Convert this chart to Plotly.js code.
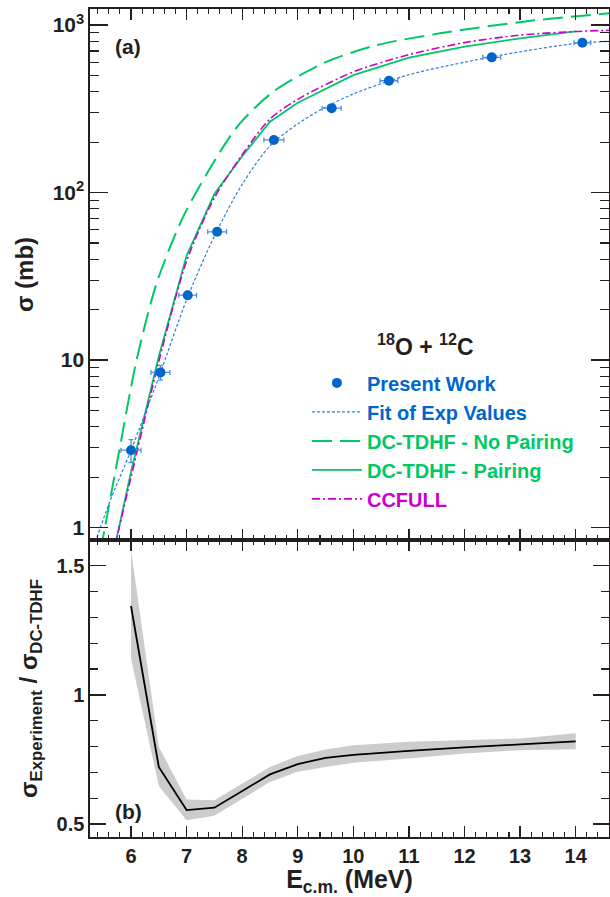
<!DOCTYPE html>
<html>
<head>
<meta charset="utf-8">
<script src="https://cdn.plot.ly/plotly-3.0.1.min.js"></script>
<style>html,body{margin:0;padding:0;background:#fff;}#chart{width:610px;height:897px;}</style>
</head>
<body>
<div id="chart"></div>
<script>
// ---- Data ----
const expE = [6.00, 6.53, 7.02, 7.55, 8.57, 9.61, 10.64, 12.49, 14.12];
const expSigma = [2.9, 8.45, 24.4, 58.3, 206, 319, 465, 641, 783];
const expSigmaErr = [0.45, 0.85, 1.3, 2.5, 6, 9, 13, 18, 22];
const expEErr = [0.18, 0.17, 0.16, 0.17, 0.18, 0.17, 0.16, 0.16, 0.15];

const fitE = [5.3, 5.6, 6.0, 6.5, 7.0, 7.5, 8.0, 8.5, 9.0, 9.5, 10, 11, 12, 13, 14, 14.6];
const fitSigma = [0.72, 1.38, 2.9, 7.9, 22.9, 55, 112, 190, 257, 324, 388, 505, 600, 692, 776, 800];

const noPairE = [5.45, 5.53, 5.79, 6.10, 6.46, 6.94, 7.62, 7.96, 8.56, 9.46, 10.36, 11.56, 13.06, 14.6];
const noPairSigma = [0.72, 1.0, 2.9, 10, 28.7, 71.8, 179, 259, 400, 591, 750, 892, 1047, 1174];

const pairE = [5.72, 6.0, 6.5, 7.0, 7.5, 8.0, 8.5, 9.0, 10, 11, 12, 13, 14];
const pairSigma = [0.8, 2.15, 10.5, 42, 98, 165, 265, 344, 502, 638, 743, 832, 916];

const ccE = [5.7, 6.0, 6.5, 7.0, 7.5, 8.0, 8.5, 9.0, 10, 11, 12, 13, 14, 14.6];
const ccSigma = [0.75, 2.0, 9.8, 39, 93, 168, 275, 360, 525, 665, 785, 870, 915, 930];

const ratioE = [6, 6.5, 7, 7.5, 8.5, 9, 9.5, 10, 11, 12, 13, 14];
const ratio = [1.344, 0.721, 0.554, 0.563, 0.692, 0.732, 0.756, 0.768, 0.783, 0.797, 0.808, 0.820];
const ratioHi = [1.56, 0.799, 0.595, 0.592, 0.721, 0.763, 0.788, 0.805, 0.818, 0.825, 0.831, 0.851];
const ratioLo = [1.141, 0.647, 0.515, 0.532, 0.663, 0.702, 0.721, 0.737, 0.754, 0.773, 0.786, 0.789];

const yTickVals = [1, 10, 100, 1000];
const yTickText = ['1', '10', '10<sup>2</sup>', '10<sup>3</sup>'];
const yMinorVals = [2,3,4,5,6,7,8,9,20,30,40,50,60,70,80,90,200,300,400,500,600,700,800,900];
const y2TickVals = [0.5, 1, 1.5];
const y2TickText = ['0.5', '1', '1.5'];

// ---- Styles ----
const BLUE = '#0066cc', GREEN = '#00c864', MAG = '#cc00cc', INK = '#231f20';
const FONT = 'Liberation Sans, Arial, Helvetica, sans-serif';
const col = (c, t) => '<span style="color:' + c + '">' + t + '</span>';

const traces = [
  {x: noPairE, y: noPairSigma, type: 'scatter', mode: 'lines', xaxis: 'x', yaxis: 'y',
   name: col(GREEN, 'DC-TDHF - No Pairing'), legendrank: 3,
   line: {color: GREEN, width: 2, dash: '20px,8px', shape: 'spline', smoothing: 0.8}},
  {x: pairE, y: pairSigma, type: 'scatter', mode: 'lines', xaxis: 'x', yaxis: 'y',
   name: col(GREEN, 'DC-TDHF - Pairing'), legendrank: 4,
   line: {color: GREEN, width: 1.8}},
  {x: ccE, y: ccSigma, type: 'scatter', mode: 'lines', xaxis: 'x', yaxis: 'y',
   name: col(MAG, 'CCFULL'), legendrank: 5,
   line: {color: MAG, width: 1.6, dash: '8px,3px,2px,3px', shape: 'spline', smoothing: 0.8}},
  {x: fitE, y: fitSigma, type: 'scatter', mode: 'lines', xaxis: 'x', yaxis: 'y',
   name: col(BLUE, 'Fit of Exp Values'), legendrank: 2,
   line: {color: '#2f7fdc', width: 1.2, dash: '3px,2px', shape: 'spline', smoothing: 0.8}},
  {x: expE, y: expSigma, type: 'scatter', mode: 'markers', xaxis: 'x', yaxis: 'y',
   name: col(BLUE, 'Present Work'), legendrank: 1,
   marker: {color: BLUE, size: 10},
   error_x: {type: 'data', array: expEErr, color: '#4a90e0', thickness: 1.3, width: 2.5},
   error_y: {type: 'data', array: expSigmaErr, color: '#4a90e0', thickness: 1.3, width: 2.5}},
  {x: ratioE, y: ratioLo, type: 'scatter', mode: 'lines', xaxis: 'x2', yaxis: 'y2',
   showlegend: false, line: {width: 0, color: 'rgba(0,0,0,0)'}, hoverinfo: 'skip'},
  {x: ratioE, y: ratioHi, type: 'scatter', mode: 'lines', xaxis: 'x2', yaxis: 'y2',
   showlegend: false, fill: 'tonexty', fillcolor: '#cccccc', line: {width: 0, color: 'rgba(0,0,0,0)'}, hoverinfo: 'skip'},
  {x: ratioE, y: ratio, type: 'scatter', mode: 'lines', xaxis: 'x2', yaxis: 'y2',
   showlegend: false, line: {color: '#000', width: 1.8}}
];

const xCommon = {
  range: [5.2625, 14.599], dtick: 1, tick0: 0, ticks: 'inside', ticklen: 11, tickwidth: 1.3, tickcolor: INK,
  minor: {ticks: 'inside', ticklen: 5, dtick: 0.2, tick0: 0, tickwidth: 1.1, tickcolor: INK},
  showline: true, linecolor: INK, linewidth: 1.6, mirror: 'ticks', showgrid: false, zeroline: false
};

const layout = {
  width: 610, height: 897,
  margin: {l: 90, r: 1, t: 9, b: 60},
  paper_bgcolor: '#ffffff', plot_bgcolor: '#ffffff',
  font: {family: FONT, size: 20, color: INK, weight: 700},
  showlegend: true,
  legend: {x: 0.418, y: 0.572, xanchor: 'left', yanchor: 'top', bgcolor: 'rgba(0,0,0,0)',
           borderwidth: 0, itemwidth: 50, tracegroupgap: 0, traceorder: 'normal',
           font: {family: FONT, size: 20, weight: 700, color: INK}},
  xaxis: Object.assign({}, xCommon, {domain: [0, 1], anchor: 'y', showticklabels: false}),
  xaxis2: Object.assign({}, xCommon, {domain: [0, 1], anchor: 'y2',
    tickfont: {family: FONT, size: 20, weight: 700, color: INK},
    title: {text: 'E<sub>c.m.</sub> (MeV)', font: {family: FONT, size: 25, weight: 700, color: INK}, standoff: 6}}),
  yaxis: {domain: [0.3587, 1], anchor: 'x', type: 'log', range: [-0.0734, 3.0955],
    tickmode: 'array', tickvals: yTickVals, ticktext: yTickText,
    ticks: 'inside', ticklen: 18, tickwidth: 1.3, tickcolor: INK,
    minor: {ticks: 'inside', ticklen: 9, tickmode: 'array', tickvals: yMinorVals, tickwidth: 1.1, tickcolor: INK},
    tickfont: {family: FONT, size: 21, weight: 700, color: INK},
    showline: true, linecolor: INK, linewidth: 1.6, mirror: 'ticks', showgrid: false, zeroline: false,
    title: {text: 'σ (mb)', font: {family: FONT, size: 24, weight: 700, color: INK}, standoff: 12}},
  yaxis2: {domain: [0, 0.3587], anchor: 'x2', range: [0.4497, 1.5995],
    tickmode: 'array', tickvals: y2TickVals, ticktext: y2TickText,
    ticks: 'inside', ticklen: 16, tickwidth: 1.3, tickcolor: INK,
    minor: {ticks: 'inside', ticklen: 8, dtick: 0.1, tick0: 0, tickwidth: 1.1, tickcolor: INK},
    tickfont: {family: FONT, size: 20, weight: 700, color: INK},
    showline: true, linecolor: INK, linewidth: 1.6, mirror: 'ticks', showgrid: false, zeroline: false,
    title: {text: 'σ<sub>Experiment</sub> / σ<sub>DC-TDHF</sub>', font: {family: FONT, size: 24, weight: 700, color: INK}, standoff: 12}},
  annotations: [
    {text: '(a)', xref: 'paper', yref: 'paper', x: 0.044, y: 0.9553, xanchor: 'left', yanchor: 'middle',
     showarrow: false, font: {family: FONT, size: 21, weight: 700, color: INK}},
    {text: '(b)', xref: 'paper', yref: 'paper', x: 0.044, y: 0.0314, xanchor: 'left', yanchor: 'middle',
     showarrow: false, font: {family: FONT, size: 21, weight: 700, color: INK}},
    {text: '<sup>18</sup>O + <sup>12</sup>C', xref: 'paper', yref: 'paper', x: 0.647, y: 0.594,
     xanchor: 'center', yanchor: 'middle', showarrow: false, font: {family: FONT, size: 23, weight: 700, color: INK}}
  ]
};

Plotly.newPlot('chart', traces, layout, {displayModeBar: false, staticPlot: true});
</script>
</body>
</html>
